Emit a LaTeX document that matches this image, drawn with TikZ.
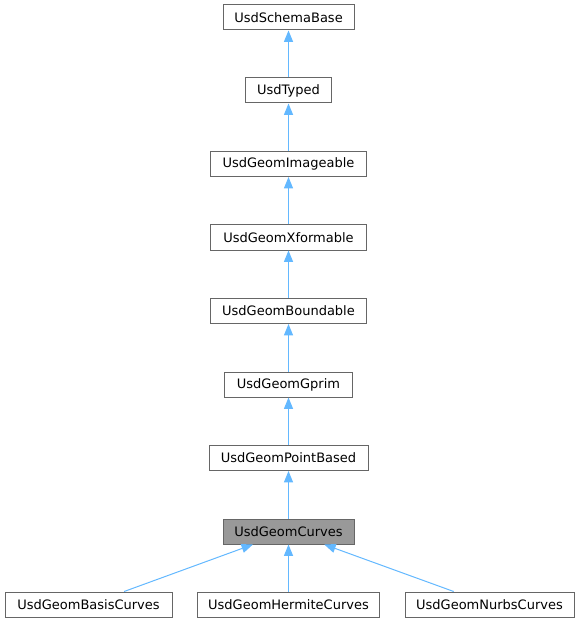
\documentclass[tikz,border=0pt]{standalone}
\usepackage{fontspec}
\setmainfont{DejaVu Sans}
\usetikzlibrary{arrows.meta}
\definecolor{edgeblue}{HTML}{63B8FF}
\definecolor{boxgray}{HTML}{666666}
\definecolor{hlgray}{HTML}{999999}
\begin{document}
\begin{tikzpicture}[x=0.75pt,y=-0.75pt,
	cls/.style={draw=boxgray,fill=white,line width=0.75pt,minimum height=18.75pt,inner sep=0pt,font=\fontsize{9.75}{11}\selectfont},
	edge/.style={draw=edgeblue,line width=0.75pt,-{Triangle[length=8.5pt,width=6.75pt,fill=edgeblue]}}]
	\useasboundingbox (0,0) rectangle (580,623);
	% inheritance chain
	\node[cls,minimum width=98.25pt] (base) at (288.5,17.5) {UsdSchemaBase};
	\node[cls,minimum width=64.5pt] (typed) at (288.5,90.5) {UsdTyped};
	\node[cls,minimum width=117pt] (imageable) at (288.5,164) {UsdGeomImageable};
	\node[cls,minimum width=117pt] (xformable) at (288.5,237.5) {UsdGeomXformable};
	\node[cls,minimum width=117pt] (boundable) at (288.5,311) {UsdGeomBoundable};
	\node[cls,minimum width=96pt] (gprim) at (288.5,384.5) {UsdGeomGprim};
	\node[cls,minimum width=119.25pt] (pointbased) at (288.5,458) {UsdGeomPointBased};
	\node[cls,fill=hlgray,minimum width=98.25pt] (curves) at (288.5,531.5) {UsdGeomCurves};
	% derived classes
	\node[cls,minimum width=125.25pt] (basis) at (88.5,604.5) {UsdGeomBasisCurves};
	\node[cls,minimum width=136.5pt] (hermite) at (288.5,604.5) {UsdGeomHermiteCurves};
	\node[cls,minimum width=126.75pt] (nurbs) at (489.5,604.5) {UsdGeomNurbsCurves};
	\draw[edge] (typed) -- (base);
	\draw[edge] (imageable) -- (typed);
	\draw[edge] (xformable) -- (imageable);
	\draw[edge] (boundable) -- (xformable);
	\draw[edge] (gprim) -- (boundable);
	\draw[edge] (pointbased) -- (gprim);
	\draw[edge] (curves) -- (pointbased);
	\draw[edge] (basis) -- (curves);
	\draw[edge] (hermite) -- (curves);
	\draw[edge] (nurbs) -- (curves);
\end{tikzpicture}
\end{document}
